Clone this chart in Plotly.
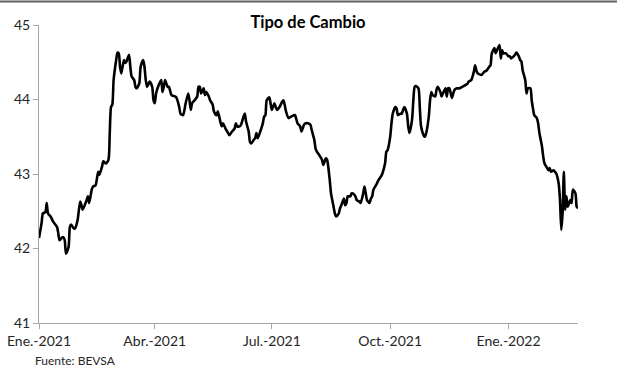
import pandas as pd
import plotly.graph_objects as go

# Days since 2021-01-01 and exchange rate values
day_offsets = [0, 2, 3, 5, 6, 7, 9, 11, 14, 15, 16, 18, 19, 20, 21, 23, 24, 25, 27, 28,
               30, 32, 33, 34, 37, 38, 39, 41, 42, 44, 46, 47, 49, 50, 52, 54, 55, 56, 57, 58,
               60, 61, 62, 63, 64, 66, 67, 68, 70, 71, 72, 74, 75, 76, 78, 79, 81, 82, 83, 84,
               86, 88, 89, 90, 91, 93, 95, 96, 97, 98, 100, 101, 103, 106, 107, 109, 110, 112, 114, 116,
               117, 118, 119, 121, 123, 124, 125, 126, 128, 129, 130, 132, 133, 135, 136, 138, 139, 141, 142, 143,
               145, 147, 148, 150, 152, 153, 154, 156, 157, 159, 160, 161, 163, 164, 165, 167, 168, 169, 170, 172,
               174, 175, 176, 177, 179, 180, 181, 183, 184, 185, 187, 189, 190, 191, 192, 194, 196, 198, 199, 201,
               203, 204, 206, 207, 209, 211, 212, 214, 215, 216, 218,
               220, 221, 223, 224, 226, 227, 229, 230, 231, 233, 234, 235, 237, 238, 239, 240, 242, 243, 244, 246,
               247, 249, 250, 252, 253, 254, 255, 257, 258, 259, 260, 262, 264, 266, 267, 269, 270, 271, 273, 274,
               275, 277, 278, 279, 281, 282, 283, 284, 286, 287, 288, 290, 291, 292, 293, 295, 296, 297, 299, 300,
               301, 303, 304, 305, 306, 308, 309, 310, 312, 313, 314, 316, 317, 318, 319, 321, 322, 323, 325, 327,
               329, 331, 333, 334, 336, 338, 339, 340, 341, 344, 346, 348, 350, 351, 352, 354, 355, 356, 358, 359,
               360, 361, 363, 365, 366, 367, 369, 370, 371, 373, 374, 375, 376, 378, 379, 380, 382, 383, 384, 385,
               387, 388, 389, 391, 392, 393, 395, 396, 397, 398, 400, 401, 402, 404, 405, 406, 407, 408, 409, 410,
               411, 413, 414, 415, 417, 418, 419]

rates = [42.14, 42.34, 42.47, 42.49, 42.61, 42.47, 42.43, 42.36, 42.29, 42.20, 42.11, 42.15, 42.15, 42.11, 41.93, 42.02, 42.29, 42.32, 42.27, 42.27,
         42.38, 42.63, 42.58, 42.52, 42.65, 42.70, 42.61, 42.79, 42.83, 42.85, 43.03, 42.99, 43.10, 43.17, 43.14, 43.19, 43.55, 43.90, 43.93, 44.26,
         44.53, 44.63, 44.62, 44.44, 44.35, 44.53, 44.49, 44.51, 44.60, 44.44, 44.31, 44.26, 44.17, 44.15, 44.22, 44.44, 44.53, 44.44, 44.26, 44.17,
         44.24, 44.17, 43.99, 43.95, 44.08, 44.19, 44.26, 44.10, 44.17, 44.26, 44.17, 44.17, 44.06, 44.04, 44.02, 43.90, 43.81, 43.79, 43.95, 44.08,
         43.99, 43.86, 43.95, 43.99, 44.04, 44.17, 44.17, 44.08, 44.15, 44.06, 44.10, 44.04, 43.99, 43.93, 43.84, 43.79, 43.84, 43.70, 43.64, 43.68,
         43.61, 43.55, 43.52, 43.57, 43.61, 43.68, 43.64, 43.64, 43.66, 43.77, 43.81, 43.70, 43.57, 43.43, 43.41, 43.46, 43.48, 43.55, 43.48, 43.57,
         43.68, 43.77, 43.79, 43.99, 44.03, 43.95, 43.86, 43.95, 43.90, 43.86, 43.90, 43.97, 43.99, 43.93, 43.84, 43.75, 43.77, 43.79, 43.79, 43.68,
         43.64, 43.57, 43.66, 43.68, 43.68, 43.66, 43.59, 43.46, 43.34, 43.30, 43.25,
         43.19, 43.12, 43.21, 43.19, 42.92, 42.74, 42.56, 42.47, 42.43, 42.47, 42.54, 42.58, 42.67, 42.58, 42.61, 42.70, 42.70, 42.74, 42.74, 42.70,
         42.65, 42.63, 42.61, 42.74, 42.83, 42.74, 42.65, 42.61, 42.67, 42.70, 42.79, 42.85, 42.92, 42.97, 43.01, 43.14, 43.30, 43.32, 43.50, 43.68,
         43.81, 43.90, 43.88, 43.79, 43.81, 43.81, 43.86, 43.90, 43.81, 43.64, 43.55, 43.73, 43.99, 44.17, 44.18, 44.15, 43.90, 43.64, 43.52, 43.50,
         43.55, 43.77, 43.99, 44.10, 44.06, 44.04, 44.13, 44.17, 44.10, 44.04, 44.08, 44.15, 44.04, 44.15, 44.15, 44.02, 44.08, 44.13, 44.15, 44.15,
         44.17, 44.19, 44.21, 44.24, 44.26, 44.37, 44.46, 44.39, 44.35, 44.33, 44.37, 44.39, 44.44, 44.46, 44.62, 44.69, 44.62, 44.66, 44.73, 44.55,
         44.66, 44.62, 44.62, 44.58, 44.58, 44.55, 44.58, 44.60, 44.63, 44.58, 44.53, 44.51, 44.39, 44.26, 44.08, 44.15, 44.15, 43.99, 43.88, 43.79,
         43.75, 43.68, 43.55, 43.37, 43.23, 43.14, 43.08, 43.05, 43.08, 43.03, 43.05, 43.03, 43.01, 42.87, 42.65, 42.25, 42.47, 43.03, 42.52, 42.70,
         42.56, 42.65, 42.61, 42.79, 42.74, 42.56, 42.54]

tick_dates = ["2021-01-01", "2021-04-01", "2021-07-01", "2021-10-01", "2022-01-01"]
tick_labels = ["Ene.-2021", "Abr.-2021", "Jul.-2021", "Oct.-2021", "Ene.-2022"]
y_ticks = [41, 42, 43, 44, 45]

start = pd.Timestamp("2021-01-01")
dates = [start + pd.Timedelta(days=d) for d in day_offsets]

W, H = 617, 372
ML, MR, MT, MB = 39, 39, 25, 49
PW, PH = W - ML - MR, H - MT - MB
font_family = "Lato, 'Open Sans', sans-serif"

fig = go.Figure()
fig.add_trace(go.Scatter(
    x=dates, y=rates, mode="lines",
    line=dict(color="black", width=2.6, shape="spline", smoothing=0.6),
    showlegend=False, hoverinfo="skip",
))

fig.update_layout(
    width=W, height=H,
    margin=dict(l=ML, r=MR, t=MT, b=MB, autoexpand=False),
    paper_bgcolor="white", plot_bgcolor="white",
    font=dict(family=font_family, size=14, color="#262626"),
    title=dict(text="<b>Tipo de Cambio</b>", x=(308 - ML) / PW, xref="paper", xanchor="center",
               y=1 - 22 / H, yanchor="middle",
               font=dict(family=font_family, size=16.5, color="black")),
    xaxis=dict(
        type="date", automargin=False,
        range=[start, start + pd.Timedelta(days=day_offsets[-1])],
        tickvals=tick_dates, ticktext=tick_labels,
        showgrid=False, zeroline=False,
        showline=True, linecolor="#a6a6a6", linewidth=1,
        ticks="outside", ticklen=5, tickcolor="#a6a6a6",
        tickfont=dict(size=14, color="#262626"),
    ),
    yaxis=dict(
        range=[41, 45], tickvals=y_ticks, automargin=False,
        showgrid=False, zeroline=False,
        showline=True, linecolor="#a6a6a6", linewidth=1,
        ticks="outside", ticklen=5, tickcolor="#a6a6a6",
        tickfont=dict(size=14, color="#262626"),
    ),
    annotations=[dict(
        text="Fuente: BEVSA", xref="paper", yref="paper",
        x=-6 / PW, xanchor="left",
        y=-(360 - (H - MB)) / PH, yanchor="middle",
        showarrow=False, font=dict(family=font_family, size=12, color="#262626"),
    )],
    shapes=[dict(
        type="line", xref="paper", yref="paper", layer="above",
        x0=-ML / PW, x1=1 + MR / PW,
        y0=1 + (MT - 1.5) / PH, y1=1 + (MT - 1.5) / PH,
        line=dict(color="#5f5f5f", width=2),
    )],
)

fig.write_html("out.html", config={"displayModeBar": False},
               post_script="document.body.style.margin='0';document.body.style.overflow='hidden';")
